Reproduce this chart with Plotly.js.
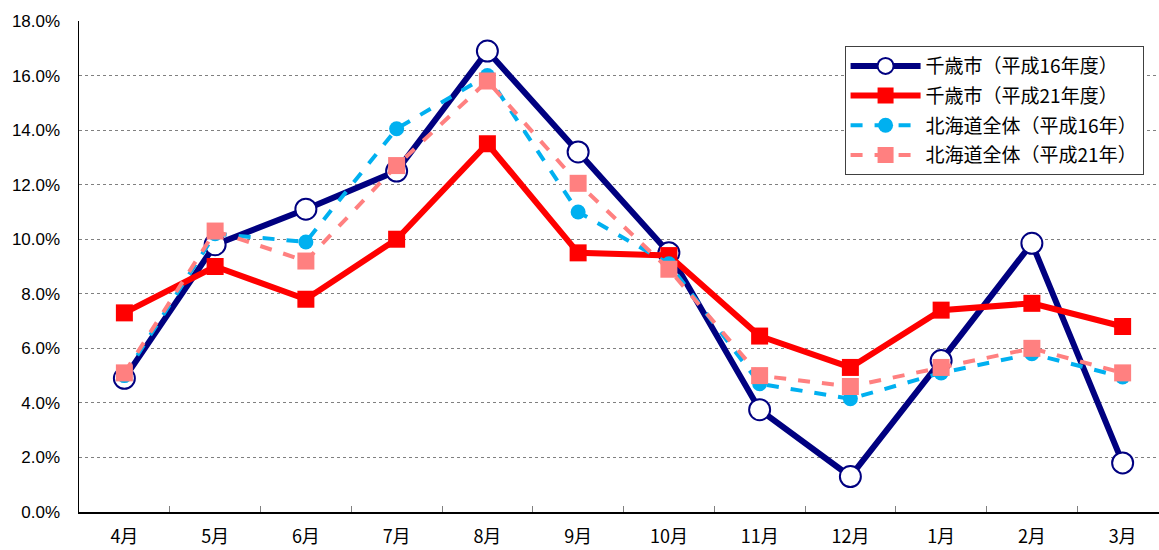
<!DOCTYPE html>
<html>
<head>
<meta charset="utf-8">
<script src="https://cdn.plot.ly/plotly-3.0.1.min.js"></script>
<style>
html,body{margin:0;padding:0;overflow:hidden;background:#fff;}
#chart{width:1175px;height:550px;}
</style>
</head>
<body>
<div id="chart"></div>
<script>
const months = ["4月","5月","6月","7月","8月","9月","10月","11月","12月","1月","2月","3月"];
const chitoseH16 = [4.9, 9.8, 11.1, 12.5, 16.9, 13.2, 9.5, 3.75, 1.3, 5.55, 9.85, 1.8];
const chitoseH21 = [7.3, 9.0, 7.8, 10.0, 13.5, 9.5, 9.4, 6.45, 5.3, 7.4, 7.65, 6.8];
const hokkaidoH16 = [5.0, 10.2, 9.9, 14.05, 16.0, 11.0, 9.1, 4.7, 4.15, 5.1, 5.8, 4.95];
const hokkaidoH21 = [5.1, 10.3, 9.2, 12.7, 15.8, 12.05, 8.9, 5.0, 4.6, 5.3, 6.0, 5.1];
const seriesNames = ["千歳市（平成16年度）","千歳市（平成21年度）","北海道全体（平成16年）","北海道全体（平成21年）"];

const traces = [
  {x: months, y: chitoseH16, name: seriesNames[0], type: "scatter", mode: "lines+markers",
   legendgroup: "a",
   line: {color: "#000080", width: 6},
   marker: {symbol: "circle", size: 21, color: "#ffffff", line: {color: "#000080", width: 2}}},
  {x: months, y: chitoseH21, name: seriesNames[1], type: "scatter", mode: "lines+markers",
   legendgroup: "b",
   line: {color: "#ff0000", width: 6},
   marker: {symbol: "square", size: 17, color: "#ff0000"}},
  {x: months, y: hokkaidoH16, name: seriesNames[2], type: "scatter", mode: "lines+markers",
   legendgroup: "c",
   line: {color: "#00b0f0", width: 4, dash: "dash"},
   marker: {symbol: "circle", size: 15, color: "#00b0f0"}},
  {x: months, y: hokkaidoH21, name: seriesNames[3], type: "scatter", mode: "lines+markers",
   legendgroup: "d",
   line: {color: "#ff8080", width: 4, dash: "dash"},
   marker: {symbol: "square", size: 17, color: "#ff8080"}}
];

const layout = {
  width: 1175, height: 550,
  margin: {l: 79, r: 7, t: 21, b: 38},
  paper_bgcolor: "#ffffff", plot_bgcolor: "#ffffff",
  showlegend: true,
  legend: {
    x: 0.703, y: 0.949, xanchor: "left", yanchor: "top",
    bordercolor: "#404040", borderwidth: 1, bgcolor: "#ffffff",
    font: {family: "'Noto Sans CJK JP', sans-serif", size: 19, color: "#000"},
    itemwidth: 70, tracegroupgap: 2, traceorder: "grouped"
  },
  xaxis: {
    type: "category", automargin: false, range: [-0.5, 11.5],
    showline: true, linecolor: "#000", linewidth: 1.5,
    ticks: "inside", tickson: "boundaries", ticklen: 6, tickcolor: "#808080",
    showgrid: false, zeroline: false,
    ticklabelstandoff: 8,
    tickfont: {family: "'Noto Sans CJK JP', sans-serif", size: 18, color: "#000"},
    fixedrange: true
  },
  yaxis: {
    range: [0, 18], dtick: 2, tick0: 0, automargin: false,
    tickformat: ".1f", ticksuffix: "%",
    showline: true, linecolor: "#000", linewidth: 1.5,
    showgrid: true, gridcolor: "#808080", gridwidth: 1, griddash: "dot",
    zeroline: false, ticks: "",
    ticklabelstandoff: 14,
    tickfont: {family: "'Liberation Sans', Arial, sans-serif", size: 17, color: "#000"},
    fixedrange: true
  }
};

Plotly.newPlot("chart", traces, layout, {displayModeBar: false, staticPlot: true});
</script>
</body>
</html>
